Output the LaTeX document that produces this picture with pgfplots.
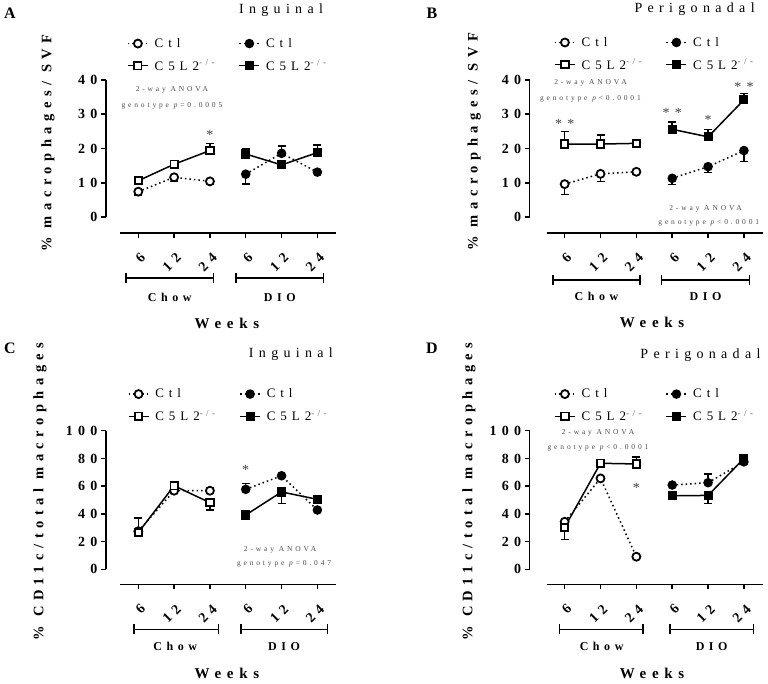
\documentclass[border=0pt]{standalone}
\usepackage{fontspec}
\setmainfont{Liberation Serif}
\newfontfamily\lsfont[LetterSpace=38]{Liberation Serif}
\usepackage{pgfplots}
\pgfplotsset{compat=1.18}

\newcommand\fA{\fontsize{14}{16}\selectfont\lsfont\bfseries}
\newcommand\fY{\fontsize{14.5}{17}\selectfont\lsfont\bfseries}
\newcommand\fT{\fontsize{14}{16}\selectfont\lsfont}
\newcommand\fL{\fontsize{13}{15}\selectfont\lsfont}
\newcommand\fG{\fontsize{12}{14}\selectfont\lsfont\bfseries}
\newcommand\fW{\fontsize{15}{17}\selectfont\lsfont\bfseries}
\newcommand\fN{\fontsize{7.5}{9}\selectfont\lsfont}
\newcommand\fS{\fontsize{14}{16}\selectfont\lsfont}
\newcommand\ko{C5L2\textcolor{black!60}{\textsuperscript{-/-}}}
% legend texts: first column has a fixed width so the second column starts in place
\newcommand\first[1]{\makebox[86pt][l]{\hspace*{4pt}#1}}
\newcommand\second[1]{\hspace*{4pt}#1}

\pgfplotsset{
  panel/.style={
    scale only axis, clip=false, anchor=south west,
    axis x line*=bottom, axis y line*=left,
    axis line style={line width=1.5pt},
    tick align=outside, major tick length=5pt,
    every tick/.style={black, line width=1.5pt},
    xtick={1,2,3,4,5,6}, xticklabels={6,12,24,6,12,24},
    x tick label style={font=\fA, xshift=7pt, yshift=-15pt, rotate=45, anchor=east},
    y tick label style={font=\fA},
    /pgf/number format/assume math mode=true,
    ylabel style={font=\fY, anchor=center},
    xlabel style={font=\fW, anchor=center},
    title style={font=\fT, anchor=center},
    legend columns=2,
    legend cell align=left,
    legend style={draw=none, fill=none, anchor=north west, font=\fL, row sep=7pt},
    legend image code/.code={\draw[mark repeat=2,mark phase=2] plot coordinates {(0pt,0pt) (10pt,0pt) (20pt,0pt)};},
  },
  ctlA/.style={black, line width=1.5pt, dash pattern=on 1.5pt off 3pt, mark=*, mark size=4pt, mark options={solid, fill=white, line width=1.8pt}},
  ctlB/.style={black, line width=1.5pt, dash pattern=on 1.5pt off 3pt, mark=*, mark size=4pt, mark options={solid, fill=black}},
  koA/.style={black, line width=1.5pt, solid, mark=square*, mark size=3.7pt, mark options={fill=white, line width=1.8pt}},
  koB/.style={black, line width=1.5pt, solid, mark=square*, mark size=3.8pt, mark options={fill=black}},
  errup/.style={forget plot, draw=none, mark=none, error bars/.cd, y dir=plus, y explicit,
    error bar style={draw=black, solid, line width=1.5pt},
    error mark options={draw=black, solid, rotate=90, mark size=4pt, line width=1.5pt}},
  errdn/.style={forget plot, draw=none, mark=none, error bars/.cd, y dir=minus, y explicit,
    error bar style={draw=black, solid, line width=1.5pt},
    error mark options={draw=black, solid, rotate=90, mark size=4pt, line width=1.5pt}},
}

% group brackets: x1 x2 y
\newcommand\brk[3]{\draw[line width=1.6pt] (axis cs:#1,#3) -- (axis cs:#2,#3);
  \draw[line width=1.6pt] (axis cs:#1,#3) ++(0pt,-5pt) -- ++(0pt,10pt);
  \draw[line width=1.6pt] (axis cs:#2,#3) ++(0pt,-5pt) -- ++(0pt,10pt);}

\begin{document}
\begin{tikzpicture}
\useasboundingbox (0,0) rectangle (768pt,683pt);
\node[font=\fontsize{16}{18}\selectfont\bfseries] at (10pt,670pt) {A};
\node[font=\fontsize{16}{18}\selectfont\bfseries] at (432pt,670pt) {B};
\node[font=\fontsize{16}{18}\selectfont\bfseries] at (10pt,335pt) {C};
\node[font=\fontsize{16}{18}\selectfont\bfseries] at (432pt,335pt) {D};

% ---------------- A: Inguinal
\begin{axis}[panel, at={(106pt,450pt)}, width=230pt, height=153pt,
  xmin=0.098, xmax=6.52, ymin=-4.67, ymax=40, ytick={0,10,20,30,40},
  x axis line style={shorten <=14pt}, y axis line style={shorten <=16pt},
  ylabel={\% macrophages/ SVF}, ylabel style={at={(axis description cs:-0.252,0.588)}},
  title={Inguinal}, title style={at={(axis description cs:0.761,1.42)}},
  xlabel={Weeks}, xlabel style={at={(axis description cs:0.526,-0.588)}},
  legend style={at={(axis description cs:0.078,1.30)}}]
\addplot[errdn] coordinates {(1,7.4) +- (0,1.0) (2,11.6) +- (0,1.3) (3,10.4) +- (0,0.8)};
\addplot[errdn] coordinates {(4,12.5) +- (0,2.9)};
\addplot[errup] coordinates {(5,18.6) +- (0,2.2)};
\addplot[errup] coordinates {(3,19.4) +- (0,2.1)};
\addplot[errup] coordinates {(4,18.4) +- (0,1.6) (6,18.8) +- (0,2.2)};
\addplot[ctlA] coordinates {(1,7.4) (2,11.6) (3,10.4)};
\addlegendentry{\first{Ctl}}
\addplot[ctlB] coordinates {(4,12.5) (5,18.6) (6,13.1)};
\addlegendentry{\second{Ctl}}
\addplot[koA] coordinates {(1,10.6) (2,15.4) (3,19.4)};
\addlegendentry{\first{\ko}}
\addplot[koB] coordinates {(4,18.4) (5,15.2) (6,18.8)};
\addlegendentry{\second{\ko}}
\node[font=\fS, text=black!75] at (axis cs:3,24) {*};
\node[font=\fN, text=black!70] at (axis cs:1.94,37.1) {2-way ANOVA};
\node[font=\fN, text=black!70] at (axis cs:1.94,32.4) {genotype \textit{p}=0.0005};
\brk{0.656}{3.095}{-17.8}
\brk{3.73}{6.17}{-17.8}
\node[font=\fG] at (axis cs:1.876,-23.4) {Chow};
\node[font=\fG] at (axis cs:4.95,-23.4) {DIO};
\end{axis}

% ---------------- B: Perigonadal
\begin{axis}[panel, at={(529.7pt,450pt)}, width=233.6pt, height=153pt,
  xmin=0.025, xmax=6.54, ymin=-4.67, ymax=40, ytick={0,10,20,30,40},
  x axis line style={shorten <=17pt}, y axis line style={shorten <=16pt},
  ylabel={\% macrophages/ SVF}, ylabel style={at={(axis description cs:-0.238,0.595)}},
  title={Perigonadal}, title style={at={(axis description cs:0.706,1.425)}},
  xlabel={Weeks}, xlabel style={at={(axis description cs:0.524,-0.586)}},
  legend style={at={(axis description cs:0.091,1.307)}}]
\addplot[errdn] coordinates {(1,9.6) +- (0,3.0) (2,12.6) +- (0,2.3) (3,13.2) +- (0,0.7)};
\addplot[errdn] coordinates {(4,11.3) +- (0,1.8) (5,14.7) +- (0,1.7) (6,19.4) +- (0,3.2)};
\addplot[errup] coordinates {(1,21.3) +- (0,3.6) (2,21.3) +- (0,2.6) (3,21.5) +- (0,1.0)};
\addplot[errup] coordinates {(4,25.6) +- (0,2.2) (5,23.4) +- (0,2.2) (6,34.2) +- (0,1.9)};
\addplot[ctlA] coordinates {(1,9.6) (2,12.6) (3,13.2)};
\addlegendentry{\first{Ctl}}
\addplot[ctlB] coordinates {(4,11.3) (5,14.7) (6,19.4)};
\addlegendentry{\second{Ctl}}
\addplot[koA] coordinates {(1,21.3) (2,21.3) (3,21.5)};
\addlegendentry{\first{\ko}}
\addplot[koB] coordinates {(4,25.6) (5,23.4) (6,34.2)};
\addlegendentry{\second{\ko}}
\node[font=\fS, text=black!75] at (axis cs:1,27.2) {**};
\node[font=\fS, text=black!75] at (axis cs:4,30.3) {**};
\node[font=\fS, text=black!75] at (axis cs:5,28.3) {*};
\node[font=\fS, text=black!75] at (axis cs:6,37.9) {**};
\node[font=\fN, text=black!70] at (axis cs:1.72,39.2) {2-way ANOVA};
\node[font=\fN, text=black!70] at (axis cs:1.72,34.4) {genotype \textit{p}<0.0001};
\node[font=\fN, text=black!70] at (axis cs:4.93,2.5) {2-way ANOVA};
\node[font=\fN, text=black!70] at (axis cs:5.02,-1.7) {genotype \textit{p}<0.0001};
\brk{0.674}{3.10}{-18.4}
\brk{3.70}{6.15}{-18.4}
\node[font=\fG] at (axis cs:1.89,-23.3) {Chow};
\node[font=\fG] at (axis cs:4.93,-23.3) {DIO};
\end{axis}

% ---------------- C: Inguinal CD11c
\begin{axis}[panel, at={(106pt,98.7pt)}, width=230pt, height=153.6pt,
  xmin=0.098, xmax=6.52, ymin=-10.8, ymax=100, ytick={0,20,40,60,80,100},
  x axis line style={shorten <=14pt}, y axis line style={shorten <=15pt},
  ylabel={\% CD11c/total macrophages}, ylabel style={at={(axis description cs:-0.287,0.604)}},
  title={Inguinal}, title style={at={(axis description cs:0.804,1.46)}},
  xlabel={Weeks}, xlabel style={at={(axis description cs:0.526,-0.577)}},
  legend style={at={(axis description cs:0.081,1.30)}}]
\addplot[errup] coordinates {(3,56.7) +- (0,2.0)};
\addplot[errup] coordinates {(4,57.7) +- (0,4.3)};
\addplot[errup] coordinates {(1,26.5) +- (0,10.7)};
\addplot[errdn] coordinates {(3,48.1) +- (0,5.3)};
\addplot[errdn] coordinates {(5,55.8) +- (0,8.2)};
\addplot[ctlA] coordinates {(1,27.5) (2,56.7) (3,56.7)};
\addlegendentry{\first{Ctl}}
\addplot[ctlB] coordinates {(4,57.7) (5,67.5) (6,42.8)};
\addlegendentry{\second{Ctl}}
\addplot[koA] coordinates {(1,26.5) (2,60.3) (3,48.1)};
\addlegendentry{\first{\ko}}
\addplot[koB] coordinates {(4,39.2) (5,55.8) (6,50.5)};
\addlegendentry{\second{\ko}}
\node[font=\fS, text=black!75] at (axis cs:4,71.6) {*};
\node[font=\fN, text=black!70] at (axis cs:4.96,14.4) {2-way ANOVA};
\node[font=\fN, text=black!70] at (axis cs:5.07,3.8) {genotype \textit{p}=0.047};
\brk{0.888}{3.235}{-43.3}
\brk{3.87}{6.28}{-43.3}
\node[font=\fG] at (axis cs:2.03,-55.8) {Chow};
\node[font=\fG] at (axis cs:5.07,-55.8) {DIO};
\end{axis}

% ---------------- D: Perigonadal CD11c
\begin{axis}[panel, at={(529.7pt,98.7pt)}, width=233.6pt, height=153.6pt,
  xmin=0.025, xmax=6.54, ymin=-10.8, ymax=100, ytick={0,20,40,60,80,100},
  x axis line style={shorten <=17pt}, y axis line style={shorten <=15pt},
  ylabel={\% CD11c/total macrophages}, ylabel style={at={(axis description cs:-0.26,0.604)}},
  title={Perigonadal}, title style={at={(axis description cs:0.731,1.45)}},
  xlabel={Weeks}, xlabel style={at={(axis description cs:0.524,-0.58)}},
  legend style={at={(axis description cs:0.091,1.30)}}]
\addplot[errup] coordinates {(5,62.5) +- (0,6.3)};
\addplot[errdn] coordinates {(1,30.3) +- (0,8.7)};
\addplot[errup] coordinates {(3,76.0) +- (0,5.2)};
\addplot[errdn] coordinates {(5,53.3) +- (0,5.7)};
\addplot[ctlA] coordinates {(1,34.3) (2,65.6) (3,9.1)};
\addlegendentry{\first{Ctl}}
\addplot[ctlB] coordinates {(4,60.8) (5,62.5) (6,77.5)};
\addlegendentry{\second{Ctl}}
\addplot[koA] coordinates {(1,30.3) (2,76.5) (3,76.0)};
\addlegendentry{\first{\ko}}
\addplot[koB] coordinates {(4,53.1) (5,53.3) (6,80.0)};
\addlegendentry{\second{\ko}}
\node[font=\fS, text=black!75] at (axis cs:3,58.4) {*};
\node[font=\fN, text=black!70] at (axis cs:1.93,98.6) {2-way ANOVA};
\node[font=\fN, text=black!70] at (axis cs:1.93,87.3) {genotype \textit{p}<0.0001};
\brk{0.861}{3.19}{-43.3}
\brk{3.93}{6.27}{-43.3}
\node[font=\fG] at (axis cs:2.03,-55.8) {Chow};
\node[font=\fG] at (axis cs:5.10,-55.8) {DIO};
\end{axis}
\end{tikzpicture}
\end{document}
